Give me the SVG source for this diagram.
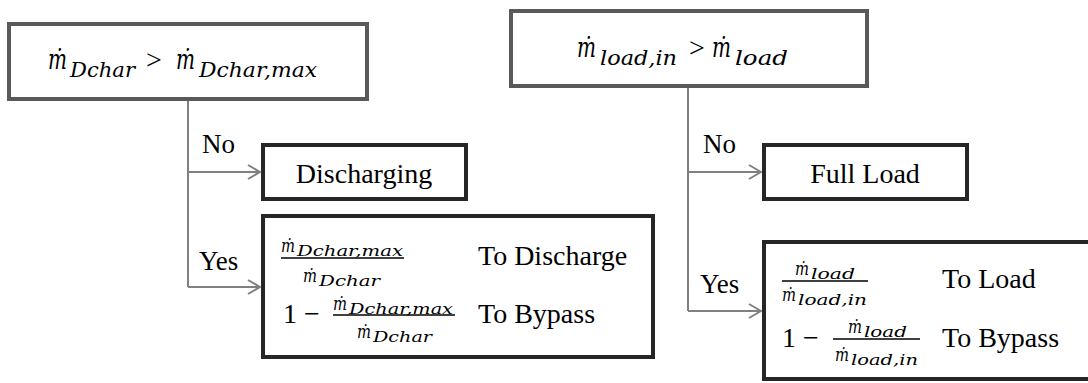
<svg xmlns="http://www.w3.org/2000/svg" width="1088" height="383" viewBox="0 0 1088 383">
<defs>
<style>
.cond{fill:#fff;stroke:#595959;stroke-width:4}
.res{fill:#fff;stroke:#262626;stroke-width:4}
.conn{fill:none;stroke:#808080;stroke-width:2}
.t{font-family:'Liberation Serif','Times New Roman',serif;font-size:28px;fill:#000}
.lbl{font-family:'Liberation Serif','Times New Roman',serif;font-size:27px;fill:#000}
.m{font-family:'DejaVu Serif',serif;font-style:italic;fill:#000}
.bar{stroke:#000;stroke-width:1.6}
</style>
<marker id="arr" markerWidth="14" markerHeight="16" refX="13" refY="8" orient="auto" markerUnits="userSpaceOnUse">
<path d="M1,1 L13,8 L1,15" fill="none" stroke="#808080" stroke-width="2"/>
</marker>
</defs>
<rect width="1088" height="383" fill="#fff"/>

<g id="connectors">
<path class="conn" d="M188,99 V287"/>
<path class="conn" d="M188,172 H260" marker-end="url(#arr)"/>
<path class="conn" d="M188,287 H260" marker-end="url(#arr)"/>
<path class="conn" d="M688,86 V311"/>
<path class="conn" d="M688,172 H761" marker-end="url(#arr)"/>
<path class="conn" d="M688,311 H761" marker-end="url(#arr)"/>
<text class="lbl" x="202" y="153">No</text>
<text class="lbl" x="199" y="270">Yes</text>
<text class="lbl" x="703" y="153">No</text>
<text class="lbl" x="700" y="293">Yes</text>
</g>

<g id="cond1">
<rect class="cond" x="9" y="24" width="358" height="75"/>
<text class="m" x="48" y="69" font-size="28" textLength="19" lengthAdjust="spacingAndGlyphs">ṁ</text>
<text class="m" x="70" y="77" font-size="20" textLength="65" lengthAdjust="spacingAndGlyphs">Dchar</text>
<text class="t" x="146" y="69" font-size="30">&gt;</text>
<text class="m" x="176" y="69" font-size="28" textLength="19" lengthAdjust="spacingAndGlyphs">ṁ</text>
<text class="m" x="199" y="77" font-size="20" textLength="118" lengthAdjust="spacingAndGlyphs">Dchar,max</text>
</g>

<g id="cond2">
<rect class="cond" x="511" y="11" width="356" height="75"/>
<text class="m" x="577" y="57" font-size="28" textLength="19" lengthAdjust="spacingAndGlyphs">ṁ</text>
<text class="m" x="600" y="65" font-size="20" textLength="77" lengthAdjust="spacingAndGlyphs">load,in</text>
<text class="t" x="689" y="57" font-size="30">&gt;</text>
<text class="m" x="712" y="57" font-size="28" textLength="19" lengthAdjust="spacingAndGlyphs">ṁ</text>
<text class="m" x="735" y="65" font-size="20" textLength="53" lengthAdjust="spacingAndGlyphs">load</text>
</g>

<g id="discharging">
<rect class="res" x="263" y="145" width="203" height="54"/>
<text class="t" x="364" y="183" text-anchor="middle">Discharging</text>
</g>

<g id="fullload">
<rect class="res" x="764" y="145" width="203" height="54"/>
<text class="t" x="865" y="183" text-anchor="middle">Full Load</text>
</g>

<g id="split1">
<rect class="res" x="263" y="216" width="390" height="141"/>
<text class="m" x="281" y="252" font-size="18" textLength="14" lengthAdjust="spacingAndGlyphs">ṁ</text>
<text class="m" x="297" y="256" font-size="14" textLength="106" lengthAdjust="spacingAndGlyphs">Dchar,max</text>
<line class="bar" x1="281" y1="258" x2="404" y2="258"/>
<text class="m" x="303" y="282" font-size="18" textLength="14" lengthAdjust="spacingAndGlyphs">ṁ</text>
<text class="m" x="319" y="286" font-size="14" textLength="61" lengthAdjust="spacingAndGlyphs">Dchar</text>
<text class="t" x="478" y="265">To Discharge</text>
<text class="t" x="283" y="323">1 −</text>
<line class="bar" x1="333" y1="315" x2="455" y2="315"/>
<text class="m" x="333" y="310" font-size="18" textLength="14" lengthAdjust="spacingAndGlyphs">ṁ</text>
<text class="m" x="349" y="314" font-size="14" textLength="104" lengthAdjust="spacingAndGlyphs">Dchar,max</text>
<text class="m" x="357" y="338" font-size="18" textLength="14" lengthAdjust="spacingAndGlyphs">ṁ</text>
<text class="m" x="373" y="342" font-size="14" textLength="59" lengthAdjust="spacingAndGlyphs">Dchar</text>
<text class="t" x="478" y="323">To Bypass</text>
</g>

<g id="split2">
<rect class="res" x="764" y="242" width="330" height="137"/>
<text class="m" x="795" y="275" font-size="18" textLength="14" lengthAdjust="spacingAndGlyphs">ṁ</text>
<text class="m" x="811" y="279" font-size="14" textLength="44" lengthAdjust="spacingAndGlyphs">load</text>
<line class="bar" x1="782" y1="281" x2="868" y2="281"/>
<text class="m" x="782" y="301" font-size="18" textLength="14" lengthAdjust="spacingAndGlyphs">ṁ</text>
<text class="m" x="798" y="305" font-size="14" textLength="69" lengthAdjust="spacingAndGlyphs">load,in</text>
<text class="t" x="942" y="288">To Load</text>
<text class="t" x="782" y="347">1 −</text>
<line class="bar" x1="833" y1="339" x2="920" y2="339"/>
<text class="m" x="848" y="333" font-size="18" textLength="14" lengthAdjust="spacingAndGlyphs">ṁ</text>
<text class="m" x="864" y="337" font-size="14" textLength="43" lengthAdjust="spacingAndGlyphs">load</text>
<text class="m" x="835" y="361" font-size="18" textLength="14" lengthAdjust="spacingAndGlyphs">ṁ</text>
<text class="m" x="851" y="365" font-size="14" textLength="67" lengthAdjust="spacingAndGlyphs">load,in</text>
<text class="t" x="942" y="347">To Bypass</text>
</g>
</svg>
